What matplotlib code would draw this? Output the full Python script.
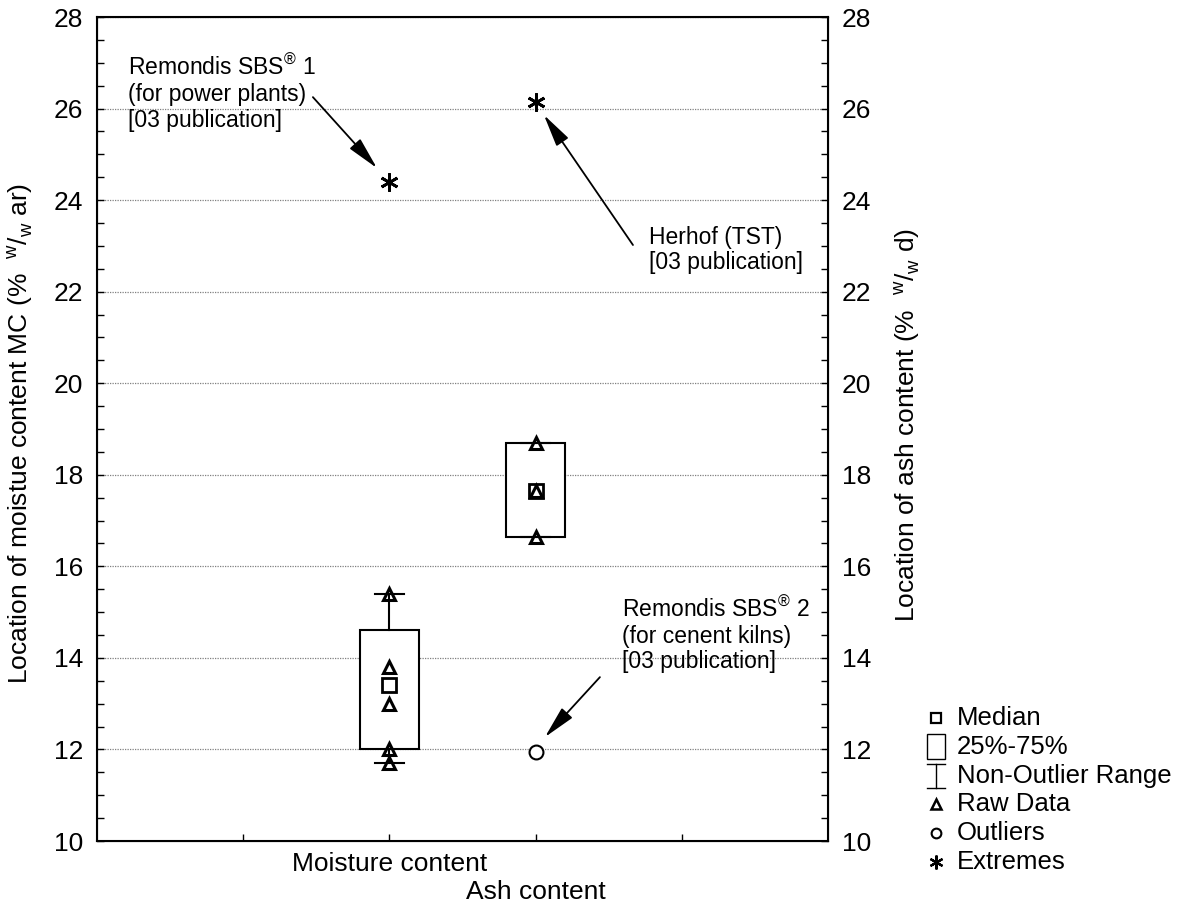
import numpy as np
import matplotlib.pyplot as plt
from matplotlib.patches import Rectangle

plt.rcParams['font.family'] = ['Liberation Sans', 'DejaVu Sans']
plt.rcParams['mathtext.fontset'] = 'custom'
plt.rcParams['mathtext.rm'] = 'Liberation Sans'

# Box plot summaries, moisture (% w/w ar) and ash (% w/w d)
groups = ['Moisture content', 'Ash content']
positions = [2, 3]
medians = [13.4, 17.65]
q1 = [12.0, 16.65]
q3 = [14.6, 18.7]
whis_lo = [11.7, 16.65]
whis_hi = [15.4, 18.7]

# Raw values inside the non-outlier range
raw_moist = [15.4, 13.8, 13.0, 12.0, 11.7]
raw_ash = [18.7, 17.65, 16.65]

# Outliers and extremes
outlier_x = [3]
outlier_y = [11.95]
extreme_x = [2, 3]
extreme_y = [24.4, 26.15]

legend_labels = ['Median', '25%-75%', 'Non-Outlier Range', 'Raw Data', 'Outliers', 'Extremes']

FS = 19

fig = plt.figure(figsize=(11.81, 9.10), dpi=100)
ax = fig.add_axes([0.0821, 0.0758, 0.6190, 0.9055])

ax.set_xlim(0, 5)
ax.set_ylim(10, 28)

ax.yaxis.grid(True, which='major', linestyle=(0, (1, 1)), color='#808080', linewidth=0.9, zorder=0)
ax.set_axisbelow(True)

stats = []
for i in range(len(groups)):
    stats.append(dict(med=medians[i], q1=q1[i], q3=q3[i],
                      whislo=whis_lo[i], whishi=whis_hi[i], fliers=[]))
ax.bxp(stats, positions=positions, widths=0.4, capwidths=0.2, showfliers=False,
       patch_artist=True, manage_ticks=False,
       boxprops=dict(facecolor='white', edgecolor='black', linewidth=1.5),
       whiskerprops=dict(color='black', linewidth=1.5),
       capprops=dict(color='black', linewidth=1.5),
       medianprops=dict(linestyle='none'), zorder=2)

ax.plot([2] * len(raw_moist), raw_moist, linestyle='none', marker='^', markersize=9,
        markerfacecolor='none', markeredgecolor='black', markeredgewidth=2.2, zorder=4)
ax.plot([3] * len(raw_ash), raw_ash, linestyle='none', marker='^', markersize=9,
        markerfacecolor='none', markeredgecolor='black', markeredgewidth=2.2, zorder=4)
ax.plot(positions, medians, linestyle='none', marker='s', markersize=10,
        markerfacecolor='none', markeredgecolor='black', markeredgewidth=2, zorder=3)
ax.plot(outlier_x, outlier_y, linestyle='none', marker='o', markersize=10,
        markerfacecolor='white', markeredgecolor='black', markeredgewidth=1.5, zorder=4)
ax.plot(extreme_x, extreme_y, linestyle='none', marker=(6, 2, 0), markersize=13,
        color='black', markeredgewidth=2, zorder=4)

# x ticks: the second group label sits one row lower, so it goes on a minor tick
ax.set_xticks([1, 2, 4], ['', groups[0], ''], fontsize=FS)
ax.set_xticks([3], [groups[1]], minor=True, fontsize=FS)
ax.tick_params(axis='x', which='both', direction='in', length=5, width=1)
ax.tick_params(axis='x', which='major', pad=8)
ax.tick_params(axis='x', which='minor', pad=28)

ax.set_yticks(np.arange(10, 29, 2))
ax.set_yticks(np.arange(10, 28.01, 0.5), minor=True)
ax.tick_params(axis='y', which='both', direction='in', length=5, width=1, labelsize=FS, pad=10)
for s in ax.spines.values():
    s.set_linewidth(1.5)

ax2 = ax.twinx()
ax2.set_ylim(10, 28)
ax2.set_yticks(np.arange(10, 29, 2))
ax2.set_yticks(np.arange(10, 28.01, 0.5), minor=True)
ax2.tick_params(axis='y', which='both', direction='in', length=5, width=1, labelsize=FS, pad=10)

ax.set_ylabel(r'Location of moistue content MC (%  $^{\mathregular{w}}$/$_{\mathregular{w}}$ ar)',
              fontsize=FS)
ax.yaxis.set_label_coords(-0.085, 0.495)
ax2.set_ylabel(r'Location of ash content (%  $^{\mathregular{w}}$/$_{\mathregular{w}}$ d)',
               fontsize=FS)
ax2.yaxis.set_label_coords(1.0875, 0.505)

arrow = dict(arrowstyle='-|>,head_length=1.0,head_width=0.22', color='black',
             lw=1.3, shrinkA=0, shrinkB=0, mutation_scale=20)
note_fs = 16.5
ax.annotate('', xy=(1.915, 24.70), xytext=(1.477, 26.25), arrowprops=arrow)
ax.text(0.21, 26.33, 'Remondis SBS$^{\\mathregular{\u00ae}}$ 1\n(for power plants)\n[03 publication]',
        fontsize=note_fs, ha='left', va='center', linespacing=1.15)
ax.annotate('', xy=(3.057, 25.86), xytext=(3.666, 23.02), arrowprops=arrow)
ax.text(3.776, 22.91, 'Herhof (TST)\n[03 publication]', fontsize=note_fs,
        ha='left', va='center', linespacing=1.15)
ax.annotate('', xy=(3.064, 12.27), xytext=(3.44, 13.58), arrowprops=arrow)
ax.text(3.59, 14.5, 'Remondis SBS$^{\\mathregular{\u00ae}}$ 2\n(for cenent kilns)\n[03 publication]',
        fontsize=note_fs, ha='left', va='center', linespacing=1.15)

# legend, laid out in pixel units on a transparent overlay
lg = fig.add_axes([0, 0, 1, 1])
lg.set_xlim(0, 1181)
lg.set_ylim(910, 0)
lg.axis('off')
row0, step, mx, tx = 718, 28.8, 936, 957
rows = [row0 + step * i for i in range(len(legend_labels))]
lg.plot(mx, rows[0], marker='s', markersize=7, markerfacecolor='none',
        markeredgecolor='black', markeredgewidth=1.6)
lg.add_patch(Rectangle((927, rows[1] - 12.5), 18, 25, facecolor='none',
                       edgecolor='black', linewidth=1))
lg.plot([936, 936], [rows[2] - 12, rows[2] + 12], color='black', lw=1)
lg.plot([927, 945], [rows[2] - 12, rows[2] - 12], color='black', lw=1)
lg.plot([927, 945], [rows[2] + 12, rows[2] + 12], color='black', lw=1)
lg.plot(mx, rows[3], marker='^', markersize=7, markerfacecolor='none',
        markeredgecolor='black', markeredgewidth=1.8)
lg.plot(mx, rows[4], marker='o', markersize=7, markerfacecolor='none',
        markeredgecolor='black', markeredgewidth=1.5)
lg.plot(mx, rows[5], marker=(6, 2, 0), markersize=10, color='black', markeredgewidth=1.6)
for y, lab in zip(rows, legend_labels):
    lg.text(tx, y, lab, fontsize=18.5, ha='left', va='center')

fig.savefig('out.png', dpi=100)
